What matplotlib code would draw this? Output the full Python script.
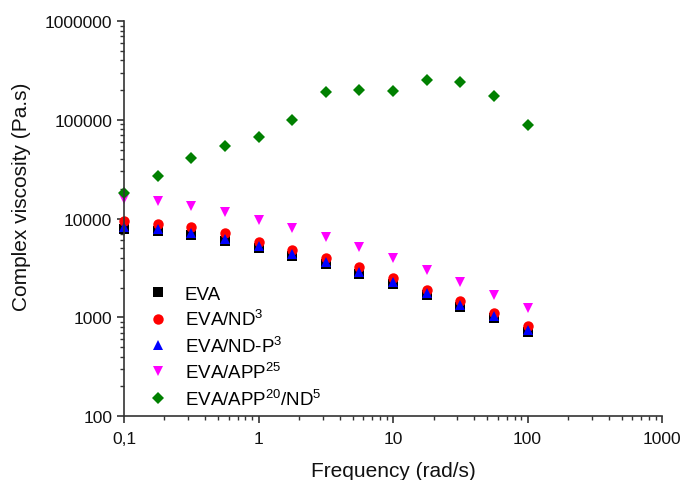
import matplotlib
matplotlib.use("Agg")
import matplotlib.pyplot as plt
from matplotlib.ticker import FixedLocator, FixedFormatter, LogLocator, NullFormatter

plt.rcParams['font.family'] = ['Liberation Sans', 'DejaVu Sans']
plt.rcParams['mathtext.fontset'] = 'custom'
plt.rcParams['mathtext.rm'] = 'Liberation Sans'
plt.rcParams['mathtext.it'] = 'Liberation Sans'

freq = [0.1, 0.178, 0.316, 0.562, 1.0, 1.78, 3.16, 5.62, 10.0, 17.8, 31.6, 56.2, 100.0]

eva = [7900, 7500, 6800, 5900, 5050, 4200, 3480, 2760, 2180, 1690, 1280, 990, 715]
eva_nd = [9530, 8810, 8220, 7150, 5790, 4810, 3990, 3240, 2505, 1893, 1465, 1108, 818]
eva_ndp = [8220, 7850, 7150, 6210, 5280, 4390, 3640, 2880, 2280, 1765, 1335, 1033, 747]
eva_app = [15800, 15100, 13400, 11700, 9700, 8040, 6460, 5160, 3990, 3020, 2280, 1690, 1245]
eva_app_nd = [18150, 27000, 41000, 54300, 67000, 99500, 191000, 200000, 195000, 253000, 241000, 174000, 88500]

labels = ['EVA', 'EVA/ND$^{3}$', 'EVA/ND-P$^{3}$', 'EVA/APP$^{25}$', 'EVA/APP$^{20}$/ND$^{5}$']
x_ticks = [0.1, 1, 10, 100, 1000]
x_ticklabels = ['0,1', '1', '10', '100', '1000']
y_ticks = [100, 1000, 10000, 100000, 1000000]
y_ticklabels = ['100', '1000', '10000', '100000', '1000000']

fig = plt.figure(figsize=(6.82, 4.81), dpi=100)
ax = fig.add_axes([0.1818, 0.133, 0.789, 0.821])

series = [
    (eva, 's', 'black'),
    (eva_nd, 'o', 'red'),
    (eva_ndp, '^', 'blue'),
    (eva_app, 'v', 'magenta'),
    (eva_app_nd, 'D', 'green'),
]
for (vals, mk, col), lab in zip(series, labels):
    ms = 6.5 if mk == 'D' else 7.5
    ax.plot(freq, vals, linestyle='none', marker=mk, color=col, markersize=ms,
            markeredgewidth=0, label=lab, clip_on=False)

ax.set_xscale('log')
ax.set_yscale('log')
ax.set_xlim(0.1, 1000)
ax.set_ylim(100, 1000000)

ax.xaxis.set_major_locator(FixedLocator(x_ticks))
ax.xaxis.set_major_formatter(FixedFormatter(x_ticklabels))
ax.yaxis.set_major_locator(FixedLocator(y_ticks))
ax.yaxis.set_major_formatter(FixedFormatter(y_ticklabels))
ax.xaxis.set_minor_locator(LogLocator(base=10, subs=range(2, 10), numticks=20))
ax.yaxis.set_minor_locator(LogLocator(base=10, subs=range(2, 10), numticks=20))
ax.xaxis.set_minor_formatter(NullFormatter())
ax.yaxis.set_minor_formatter(NullFormatter())

for s in ['top', 'right']:
    ax.spines[s].set_visible(False)
for s in ['left', 'bottom']:
    ax.spines[s].set_linewidth(1.2)
    ax.spines[s].set_color('#333333')

ax.tick_params(which='major', direction='out', length=5, width=1.2, colors='#333333',
               labelsize=12.5, labelcolor='#111111')
ax.tick_params(axis='x', which='major', pad=5.5)
ax.tick_params(which='minor', direction='out', length=3, width=1.0, colors='#333333')

ax.set_xlabel('Frequency (rad/s)', fontsize=15, color='#111111')
ax.set_ylabel('Complex viscosity (Pa.s)', fontsize=15, color='#111111')
ax.xaxis.set_label_coords(0.5, -0.113)
ax.yaxis.set_label_coords(-0.172, 0.557)

ax.legend(loc='lower left', bbox_to_anchor=(0.021, 0.0), frameon=False, fontsize=13.5,
          handletextpad=0.64, labelspacing=0.34, borderaxespad=0.0, handlelength=1.6)

fig.savefig('out.png', dpi=100)
